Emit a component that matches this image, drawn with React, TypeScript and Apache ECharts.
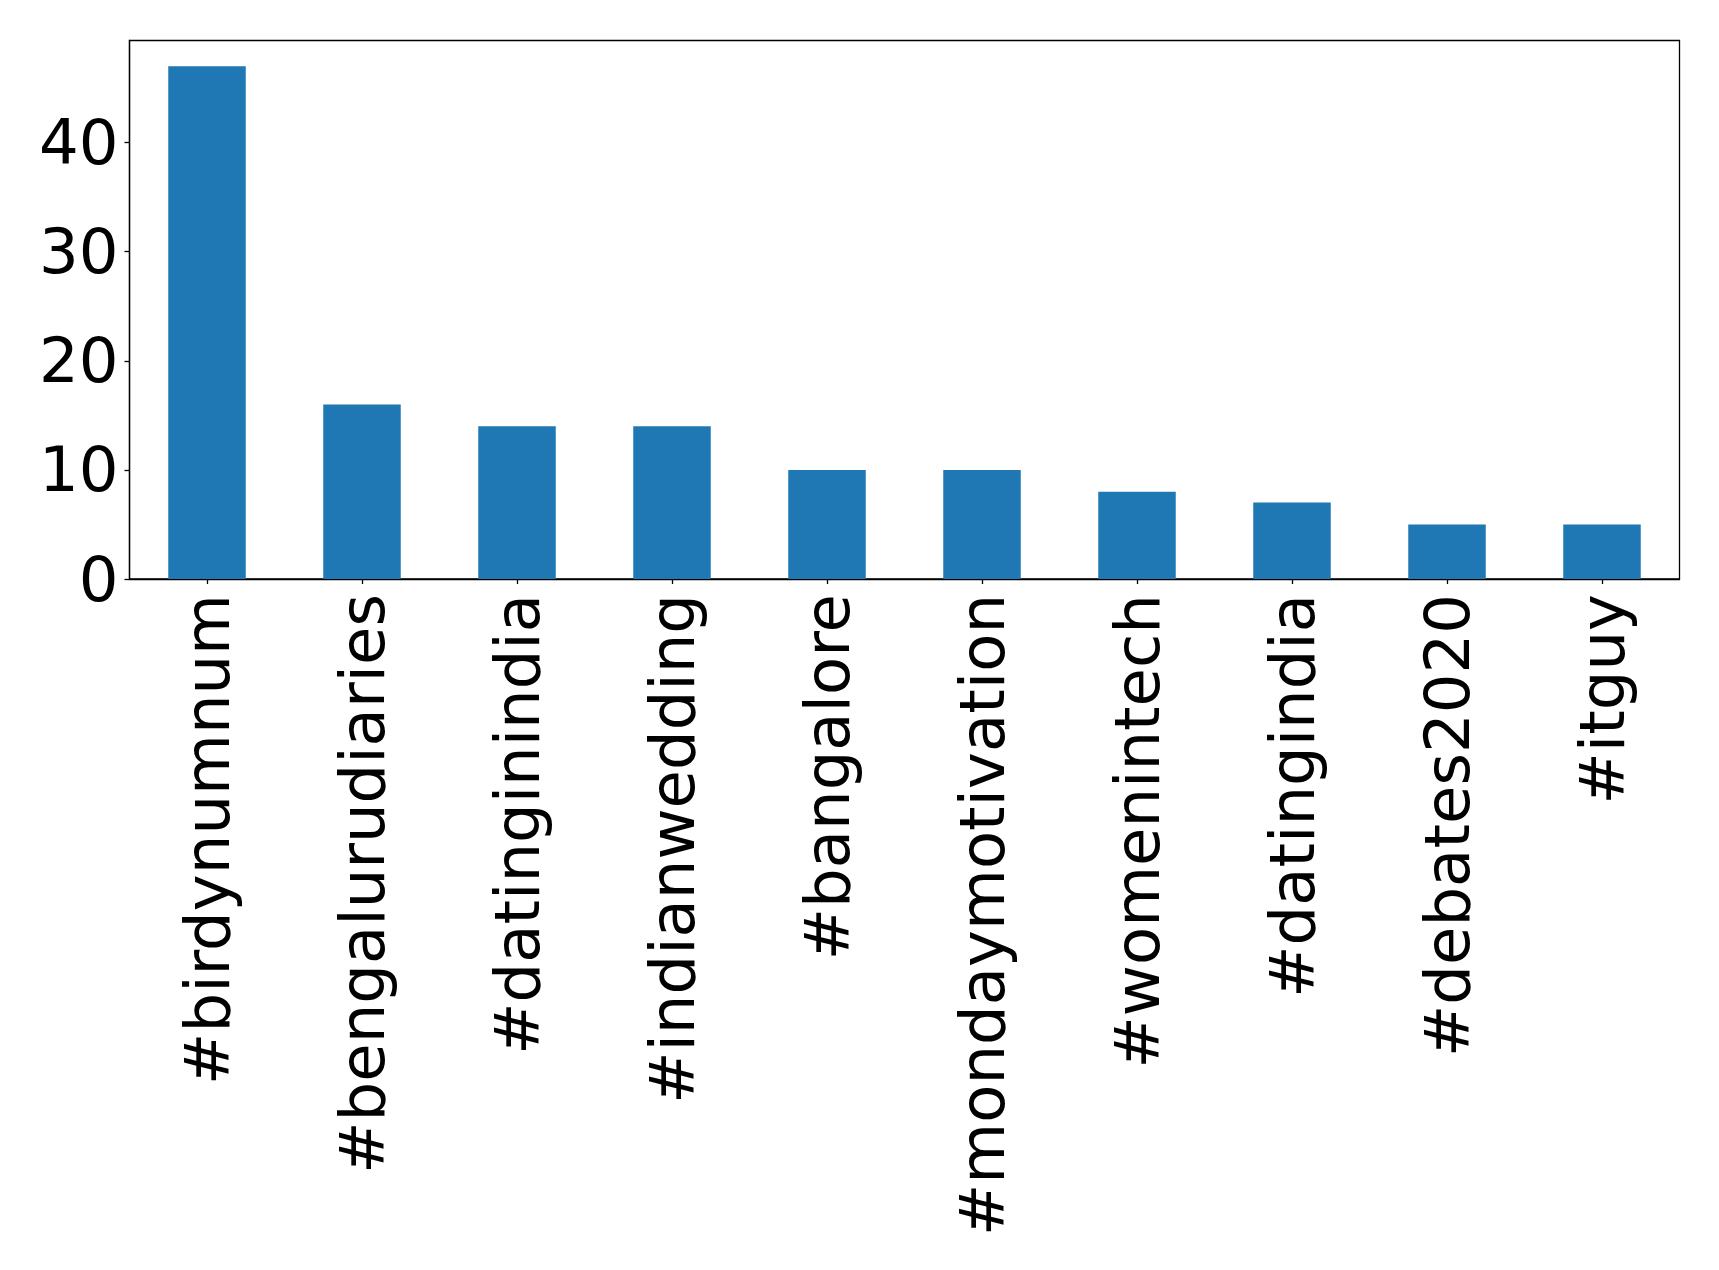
import React, { useEffect, useRef } from "react";
import * as echarts from "echarts";

const categories = [
  "#birdynumnum",
  "#bengalurudiaries",
  "#datinginindia",
  "#indianwedding",
  "#bangalore",
  "#mondaymotivation",
  "#womenintech",
  "#datingindia",
  "#debates2020",
  "#itguy",
];
const counts = [47, 16, 14, 14, 10, 10, 8, 7, 5, 5];
const yTicks = [0, 10, 20, 30, 40];

export default function App() {
  const ref = useRef<HTMLDivElement>(null);
  useEffect(() => {
    if (!ref.current) return;
    const chart = echarts.init(ref.current, null, { renderer: "svg" });
    const font = "DejaVu Sans";
    chart.setOption({
      animation: false,
      backgroundColor: "#ffffff",
      grid: {
        left: 129.5,
        top: 40.5,
        width: 1550,
        height: 538.5,
        show: true,
        borderColor: "#000000",
        borderWidth: 1.3,
        backgroundColor: "transparent",
        containLabel: false,
      },
      xAxis: {
        type: "category",
        data: categories,
        boundaryGap: true,
        axisLine: { show: true, lineStyle: { color: "#000000", width: 1.3 } },
        axisTick: { show: true, alignWithLabel: true, length: 5, lineStyle: { color: "#000000", width: 1.3 } },
        axisLabel: {
          rotate: 90,
          interval: 0,
          margin: 15,
          fontSize: 62.5,
          fontFamily: font,
          color: "#000000",
        },
        splitLine: { show: false },
      },
      yAxis: {
        type: "value",
        min: 0,
        max: 49.35,
        interval: 10,
        axisLine: { show: true, lineStyle: { color: "#000000", width: 1.3 } },
        axisTick: {
          show: true,
          length: 5,
          customValues: yTicks,
          lineStyle: { color: "#000000", width: 1.3 },
        },
        axisLabel: {
          customValues: yTicks,
          margin: 11,
          fontSize: 62.5,
          fontFamily: font,
          color: "#000000",
        },
        splitLine: { show: false },
      },
      series: [
        {
          type: "bar",
          data: counts,
          barWidth: "50%",
          itemStyle: { color: "#1f77b4" },
        },
      ],
    });
    return () => chart.dispose();
  }, []);
  return (
    <div
      ref={ref}
      style={{ position: "absolute", left: 0, top: 0, width: 1719, height: 1270 }}
    />
  );
}
